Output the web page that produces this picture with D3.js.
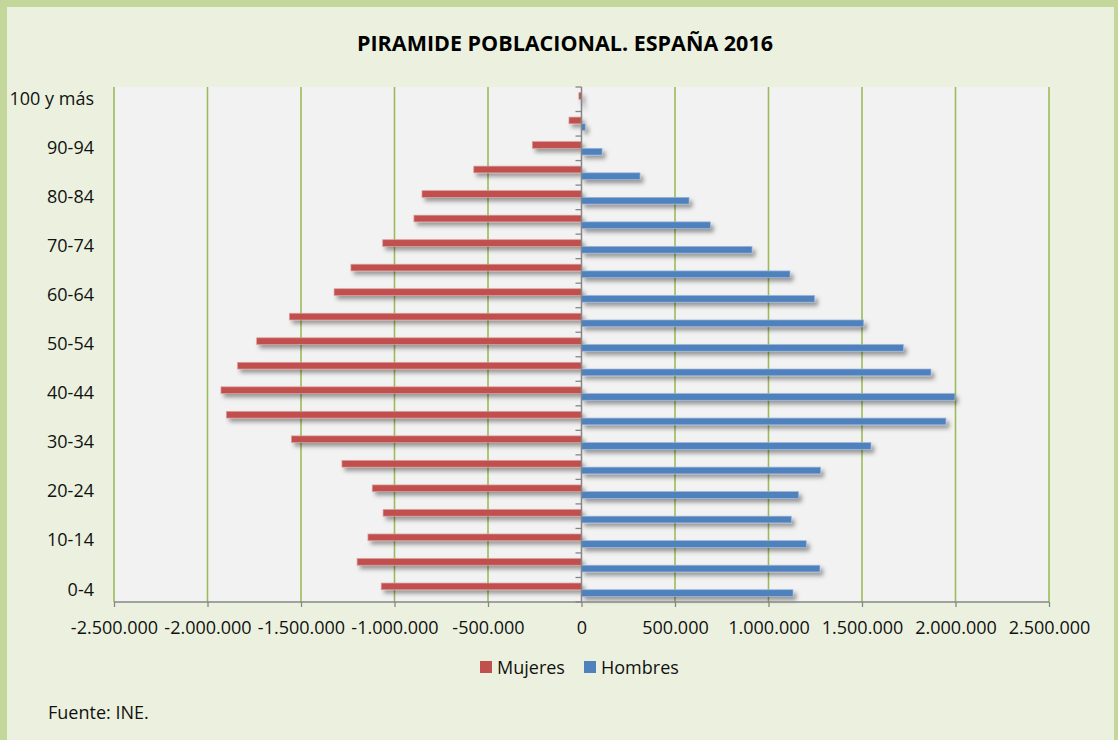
<!DOCTYPE html>
<html>
<head>
<meta charset="utf-8">
<script src="https://cdn.jsdelivr.net/npm/d3@7"></script>
<style>
  html, body { margin: 0; padding: 0; background: #c4d79b; }
  svg { display: block; }
</style>
</head>
<body>
<svg id="chart" width="1118" height="740"></svg>
<script>
// ---------- data ----------
const categories = ["0-4","5-9","10-14","15-19","20-24","25-29","30-34","35-39","40-44","45-49",
  "50-54","55-59","60-64","65-69","70-74","75-79","80-84","85-89","90-94","95-99","100 y más"];
const seriesNames = ["Mujeres", "Hombres"];
const mujeres = [-1071000, -1200000, -1142000, -1061000, -1119000, -1281000, -1551000, -1899000, -1928000, -1839000,
  -1737000, -1562000, -1323000, -1233000, -1063000, -896000, -853000, -576000, -263000, -67000, -14000];
const hombres = [1131000, 1275000, 1202000, 1122000, 1161000, 1279000, 1548000, 1949000, 1997000, 1869000,
  1721000, 1509000, 1247000, 1115000, 912000, 689000, 575000, 313000, 110000, 20000, 3000];
const xTicks = [-2500000, -2000000, -1500000, -1000000, -500000, 0, 500000, 1000000, 1500000, 2000000, 2500000];
const shownLabels = ["0-4","10-14","20-24","30-34","40-44","50-54","60-64","70-74","80-84","90-94","100 y más"];
const titleText = "PIRAMIDE POBLACIONAL. ESPAÑA 2016";
const sourceText = "Fuente: INE.";
const colors = { Mujeres: "#c0504d", Hombres: "#4f81bd" };
const strokeColors = { Mujeres: "#dc9d9b", Hombres: "#9ab6dc" };

// ---------- layout ----------
const svg = d3.select("#chart");
const W = 1118, H = 740;
const plot = { left: 114, right: 1049, top: 87, bottom: 602 };
const font = "'Open Sans', 'Noto Sans', sans-serif";
const textColor = "#111";

const locale = d3.formatLocale({ decimal: ",", thousands: ".", grouping: [3], currency: ["", "€"], minus: "-" });
const fmt = locale.format(",d");

// shadow filter
const defs = svg.append("defs");
const f = defs.append("filter").attr("id", "shadow").attr("x", "-5%").attr("y", "-50%").attr("width", "115%").attr("height", "250%");
f.append("feDropShadow").attr("dx", 3).attr("dy", 3.5).attr("stdDeviation", 2)
  .attr("flood-color", "#000").attr("flood-opacity", 0.38);

// background panel
svg.append("rect").attr("x", 0).attr("y", 0).attr("width", W).attr("height", H).attr("fill", "#c4d79b");
svg.append("rect").attr("x", 7).attr("y", 7).attr("width", W - 11).attr("height", H - 7).attr("fill", "#ebf1de");

// plot area
svg.append("rect").attr("x", plot.left).attr("y", plot.top)
  .attr("width", plot.right - plot.left).attr("height", plot.bottom - plot.top).attr("fill", "#f2f2f2");

// scales
const x = d3.scaleLinear().domain([-2500000, 2500000]).range([plot.left, plot.right]);
const y = d3.scaleBand().domain(categories.slice().reverse()).range([plot.top, plot.bottom]).paddingInner(0).paddingOuter(0);
const ySub = d3.scaleBand().domain(seriesNames).range([0, y.bandwidth()]).paddingInner(0).paddingOuter(0.83);

// gridlines
svg.append("g").selectAll("line").data(xTicks.filter(d => d !== 0)).join("line")
  .attr("x1", d => x(d)).attr("x2", d => x(d))
  .attr("y1", plot.top).attr("y2", plot.bottom)
  .attr("stroke", "#9bbb59").attr("stroke-width", 1.6);

// bars
const rows = categories.map((c, i) => ({ cat: c, Mujeres: mujeres[i], Hombres: hombres[i] }));
const barData = [];
rows.forEach(r => seriesNames.forEach(s => barData.push({ cat: r.cat, series: s, value: r[s] })));

svg.append("g").attr("filter", "url(#shadow)")
  .selectAll("rect").data(barData).join("rect")
  .attr("x", d => Math.min(x(0), x(d.value)))
  .attr("width", d => Math.abs(x(d.value) - x(0)))
  .attr("y", d => y(d.cat) + ySub(d.series))
  .attr("height", ySub.bandwidth())
  .attr("fill", d => colors[d.series])
  .attr("stroke", d => strokeColors[d.series])
  .attr("stroke-width", 0.7);

// vertical (category) axis at zero
const axisColor = "#868686";
svg.append("line").attr("x1", x(0)).attr("x2", x(0)).attr("y1", plot.top).attr("y2", plot.bottom)
  .attr("stroke", axisColor).attr("stroke-width", 1.5);
const boundaries = categories.map(c => y(c)).concat([plot.bottom]);
svg.append("g").selectAll("line").data(boundaries).join("line")
  .attr("x1", x(0) - 6).attr("x2", x(0)).attr("y1", d => d).attr("y2", d => d)
  .attr("stroke", axisColor).attr("stroke-width", 1.3);

// category labels (left)
const yAxis = d3.axisLeft(y).tickSize(0).tickPadding(0).tickValues(shownLabels);
const gy = svg.append("g").attr("transform", `translate(94,0)`).call(yAxis);
gy.select(".domain").remove();
gy.selectAll("text").attr("font-family", font).attr("font-size", 18).attr("fill", textColor).attr("dy", "0.32em");

// bottom axis
const xAxis = d3.axisBottom(x).tickValues(xTicks).tickSize(5).tickPadding(14).tickFormat(d => fmt(d));
const gx = svg.append("g").attr("transform", `translate(0,${plot.bottom})`).call(xAxis);
gx.select(".domain").attr("stroke", axisColor).attr("stroke-width", 1.5).attr("d", `M${plot.left},0H${plot.right}`);
gx.selectAll(".tick line").attr("stroke", axisColor).attr("stroke-width", 1.3);
gx.selectAll("text").attr("font-family", font).attr("font-size", 18).attr("fill", textColor);

// title
svg.append("text").attr("x", 565).attr("y", 43).attr("text-anchor", "middle").attr("dominant-baseline", "central")
  .attr("font-family", font).attr("font-weight", "bold").attr("font-size", 21).attr("fill", "#000")
  .attr("textLength", 416).attr("lengthAdjust", "spacingAndGlyphs")
  .text(titleText);

// legend
const legendItems = [
  { name: "Mujeres", x: 480 },
  { name: "Hombres", x: 584 }
];
const lg = svg.append("g").selectAll("g").data(legendItems).join("g")
  .attr("transform", d => `translate(${d.x},661)`);
lg.append("rect").attr("width", 12).attr("height", 12).attr("fill", d => colors[d.name]);
lg.append("text").attr("x", 17).attr("y", 6).attr("dominant-baseline", "central")
  .attr("font-family", font).attr("font-size", 18).attr("fill", textColor).text(d => d.name);

// source
svg.append("text").attr("x", 48).attr("y", 712).attr("dominant-baseline", "central")
  .attr("font-family", font).attr("font-size", 18).attr("fill", textColor).text(sourceText);
</script>
</body>
</html>
